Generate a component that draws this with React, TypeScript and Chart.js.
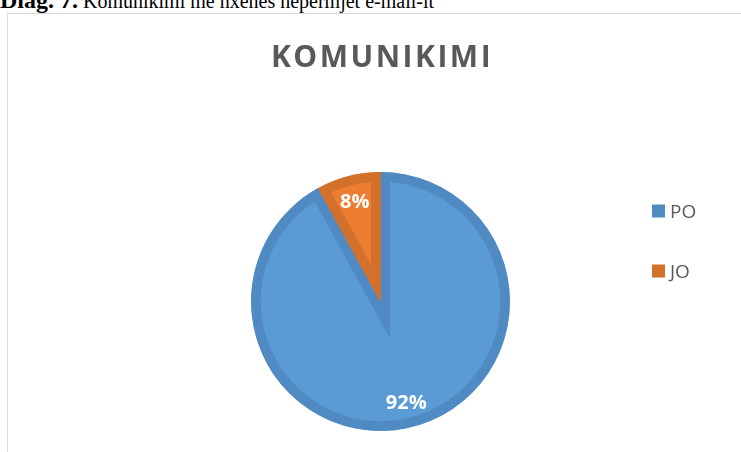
import React, { useEffect, useRef } from 'react';
import { Chart, registerables } from 'chart.js';

Chart.register(...registerables);

const categories: string[] = ['PO', 'JO'];
const values: number[] = [92, 8];
const fillColors: string[] = ['#5b9bd5', '#ed7d31'];
const borderColors: string[] = ['#4f8bc2', '#d3702c'];
const chartTitle = 'KOMUNIKIMI';
const captionBold = 'Diag. 7.';
const captionText = 'Komunikimi me nxënës nëpërmjet e-mail-it';

export default function App() {
  const ref = useRef<HTMLCanvasElement | null>(null);

  useEffect(() => {
    const canvas = ref.current;
    if (!canvas) return;

    const labelsPlugin = {
      id: 'pieLabels',
      afterDatasetsDraw(chart: any) {
        const ctx = chart.ctx;
        const meta = chart.getDatasetMeta(0);
        ctx.save();
        ctx.fillStyle = '#ffffff';
        const size = 20;
        ctx.font = `bold ${size}px "Open Sans"`;
        ctx.textAlign = 'center';
        ctx.textBaseline = 'alphabetic';
        meta.data.forEach((arc: any, i: number) => {
          const p = arc.getProps(['x', 'y', 'startAngle', 'endAngle', 'outerRadius'], true);
          const mid = (p.startAngle + p.endAngle) / 2;
          const r = p.outerRadius * 0.8;
          const cx = p.x + Math.cos(mid) * r;
          const cy = p.y + Math.sin(mid) * r;
          ctx.fillText(values[i] + '%', cx, cy + size * 0.357);
        });
        ctx.restore();
      },
    };

    const decorPlugin = {
      id: 'decor',
      afterDraw(chart: any) {
        const ctx = chart.ctx;
        ctx.save();
        // title
        ctx.fillStyle = '#595959';
        ctx.font = 'bold 30px "Open Sans"';
        (ctx as any).letterSpacing = '2.5px';
        ctx.textAlign = 'center';
        ctx.textBaseline = 'alphabetic';
        ctx.fillText(chartTitle, 382, 67);
        (ctx as any).letterSpacing = '0px';
        // legend
        const ds = chart.data.datasets[0];
        const labels: string[] = chart.data.labels;
        ctx.font = '19px "Open Sans"';
        ctx.textAlign = 'left';
        labels.forEach((lab, i) => {
          const cy = 211 + i * 60;
          ctx.fillStyle = ds.borderColor[i];
          ctx.fillRect(652, cy - 6.5, 13, 13);
          ctx.fillStyle = '#595959';
          ctx.fillText(lab, 670, cy + 19 * 0.357);
        });
        ctx.restore();
      },
    };

    const chart = new Chart(canvas, {
      type: 'pie',
      data: {
        labels: categories,
        datasets: [
          {
            data: values,
            backgroundColor: fillColors,
            borderColor: borderColors,
            borderWidth: 9.5,
            borderAlign: 'inner',
            borderJoinStyle: 'miter',
            hoverBorderWidth: 9.5,
          } as any,
        ],
      },
      options: {
        responsive: false,
        animation: false,
        events: [],
        layout: { padding: { left: 251, right: 231, top: 172, bottom: 21 } },
        plugins: {
          legend: { display: false },
          title: { display: false },
          tooltip: { enabled: false },
        },
      } as any,
      plugins: [labelsPlugin, decorPlugin],
    });

    return () => chart.destroy();
  }, []);

  return (
    <div
      style={{
        position: 'fixed',
        left: 0,
        top: 0,
        width: 741,
        height: 452,
        overflow: 'hidden',
        background: '#ffffff',
      }}
    >
      <div
        style={{
          position: 'absolute',
          left: 0,
          top: -11.6,
          whiteSpace: 'nowrap',
          fontFamily: '"Liberation Serif", "Times New Roman", serif',
          fontSize: 24,
          lineHeight: '24px',
          color: '#000',
        }}
      >
        <b>{captionBold}</b>
        <span style={{ fontSize: 20, marginLeft: 5 }}>{captionText}</span>
      </div>
      <div
        style={{
          position: 'absolute',
          left: 7,
          top: 13,
          width: 760,
          height: 460,
          border: '1.5px solid #d9d9d9',
          boxSizing: 'border-box',
        }}
      />
      <canvas
        ref={ref}
        width={741}
        height={452}
        style={{ position: 'absolute', left: 0, top: 0, width: 741, height: 452 }}
      />
    </div>
  );
}
